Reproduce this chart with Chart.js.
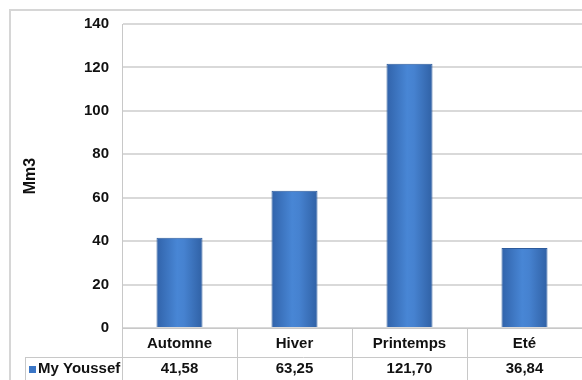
<!DOCTYPE html>
<html>
<head>
<meta charset="utf-8">
<script src="https://cdn.jsdelivr.net/npm/chart.js@4"></script>
<style>
  html, body { margin: 0; padding: 0; background: #fff; }
  #wrap { width: 582px; height: 380px; }
</style>
</head>
<body>
<div id="wrap"><canvas id="grafica" width="582" height="380"></canvas></div>
<script>
const saisons = ['Automne', 'Hiver', 'Printemps', 'Eté'];
const volumes = [41.58, 63.25, 121.70, 36.84];
const serie = 'My Youssef';
const yTicks = [0, 20, 40, 60, 80, 100, 120, 140];

const police = '"Liberation Sans", Arial, sans-serif';
const ligne = '#c8c8c8';
const bleu = '#3b76c6';
const texte = '#111111';

function virgule(v) {
    return v.toFixed(2).replace('.', ',');
}

// gradient horizontal pour chaque barre
function fondBarre(ctx) {
    const chart = ctx.chart;
    if (!chart.chartArea || ctx.dataIndex === undefined) return bleu;
    const x = chart.scales.x.getPixelForValue(ctx.dataIndex);
    const w = chart.scales.x.width / saisons.length * 0.4;
    const g = chart.ctx.createLinearGradient(x - w / 2, 0, x + w / 2, 0);
    g.addColorStop(0, '#3163aa');
    g.addColorStop(0.45, '#4886d5');
    g.addColorStop(0.6, '#4682d0');
    g.addColorStop(1, '#3061a5');
    return g;
}

// cadre, table de données et légende
const tableau = {
    id: 'tableau',
    beforeDraw(chart) {
        const c = chart.ctx;
        c.save();
        c.strokeStyle = '#d6d6d6';
        c.lineWidth = 2;
        c.beginPath();
        c.moveTo(10, 382);
        c.lineTo(10, 10);
        c.lineTo(584, 10);
        c.stroke();
        c.restore();
    },
    afterDraw(chart) {
        const c = chart.ctx;
        const x = chart.scales.x;
        const a = chart.chartArea;
        const pas = x.width / saisons.length;
        const rang = a.bottom + 29;
        const fin = chart.height + 2;
        c.save();
        c.strokeStyle = ligne;
        c.lineWidth = 1;
        c.beginPath();
        // lignes horizontales
        c.moveTo(25, rang + 0.5);
        c.lineTo(a.right, rang + 0.5);
        // séparateurs de colonnes
        for (let i = 0; i <= saisons.length; i++) {
            const px = Math.round(a.left + i * pas) + 0.5;
            c.moveTo(px, a.bottom);
            c.lineTo(px, fin);
        }
        c.moveTo(25.5, rang);
        c.lineTo(25.5, fin);
        c.stroke();

        c.fillStyle = texte;
        c.font = 'bold 15px ' + police;
        c.textBaseline = 'middle';
        c.textAlign = 'center';
        volumes.forEach((v, i) => {
            c.fillText(virgule(v), x.getPixelForValue(i), rang + 12);
        });
        c.textAlign = 'left';
        c.fillText(serie, 38, rang + 12);
        c.fillStyle = bleu;
        c.fillRect(29, rang + 9, 7, 7);
        c.restore();
    }
};

let grafica = new Chart(document.getElementById('grafica'), {
    type: 'bar',
    data: {
        labels: saisons,
        datasets: [{
            label: serie,
            data: volumes,
            backgroundColor: fondBarre,
            borderColor: '#2d5b9c',
            borderWidth: 1,
            categoryPercentage: 1,
            barPercentage: 0.4
        }]
    },
    options: {
        responsive: false,
        animation: false,
        layout: { padding: { top: 24, left: 0, right: 0, bottom: 0 } },
        plugins: {
            legend: { display: false },
            tooltip: { enabled: false }
        },
        scales: {
            x: {
                afterFit(scale) { scale.height = 52; },
                grid: { display: false, drawTicks: false },
                border: { display: true, color: ligne },
                ticks: {
                    color: texte,
                    padding: 7,
                    font: { family: police, size: 15, weight: 'bold' }
                }
            },
            y: {
                min: 0,
                max: 140,
                afterFit(scale) { scale.width = 122; },
                afterBuildTicks(scale) {
                    scale.ticks = yTicks.map(v => ({ value: v }));
                },
                grid: { color: '#d9d9d9', lineWidth: 2, drawTicks: false },
                border: { display: true, color: ligne },
                ticks: {
                    color: texte,
                    padding: 13,
                    font: { family: police, size: 15, weight: 'bold' }
                },
                title: {
                    display: true,
                    text: 'Mm3',
                    color: texte,
                    padding: { top: 21, bottom: 0 },
                    font: { family: police, size: 16, weight: 'bold' }
                }
            }
        }
    },
    plugins: [tableau]
});
</script>
</body>
</html>
